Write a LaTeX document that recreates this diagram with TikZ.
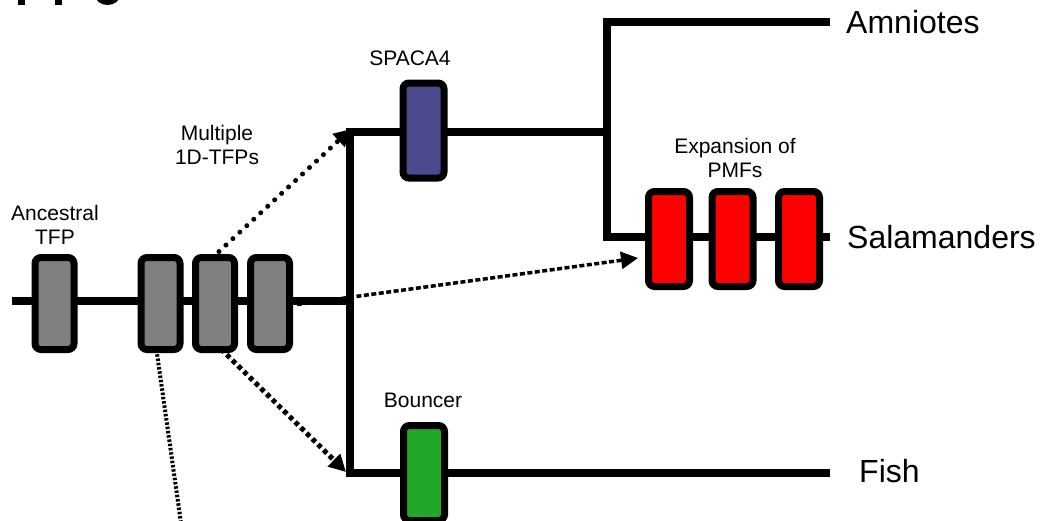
\documentclass[tikz,border=0pt]{standalone}
\usepackage{fontspec}
\setmainfont{Liberation Sans}
\usetikzlibrary{arrows.meta}
\definecolor{genegray}{RGB}{128,128,128}
\definecolor{spacacol}{RGB}{74,74,140}
\definecolor{pmfred}{RGB}{255,0,0}
\definecolor{bouncecol}{RGB}{34,168,40}
\tikzset{
  gene/.style={draw=black, line width=7pt, rounded corners=6pt, minimum width=39pt, minimum height=92pt, inner sep=0pt},
  bigene/.style={gene, minimum width=41pt, minimum height=95pt},
  branch/.style={line width=8pt},
  small/.style={font=\fontsize{21}{24}\selectfont, align=center, inner sep=0pt},
  taxon/.style={font=\fontsize{32}{36}\selectfont, anchor=west, inner sep=0pt},
  tip/.style={-{Triangle[length=17pt,width=17pt]}},
  dotA/.style={line width=5pt, line cap=round, dash pattern=on 0pt off 9.5pt, tip},
  dashB/.style={line width=3.5pt, dash pattern=on 5pt off 2.5pt, tip},
  dashC/.style={line width=5pt, dash pattern=on 4.5pt off 3.5pt, tip},
  dotD/.style={line width=4pt, dash pattern=on 2.5pt off 1.8pt}
}
\begin{document}
\begin{tikzpicture}[x=1pt,y=-1pt]
\useasboundingbox[fill=white] (0,0) rectangle (1040,520);
\clip (0,0) rectangle (1040,520);

% cut-off fragments at top left
\fill (18,-10) rectangle (25,5);
\fill (55,-10) rectangle (62,5);
\fill (107.5,-5) ellipse[x radius=12.5pt, y radius=10pt];

% coordinates of the tree
\coordinate (rootL) at (12,301);
\coordinate (split) at (350,301);
\coordinate (splitT) at (350,132);
\coordinate (splitB) at (350,473);
\coordinate (tetra) at (607,132);
\coordinate (tetraT) at (607,21.5);
\coordinate (tetraB) at (607,237);
\coordinate (endAmn) at (830,21.5);
\coordinate (endSal) at (830,237);
\coordinate (endFish) at (830,473);

% branches
\draw[branch] (rootL) -- (split);
\draw[branch] ([yshift=-4pt]splitT) -- ([yshift=4pt]splitB);
\draw[branch] ([xshift=-4pt]splitT) -- (tetra);
\draw[branch] ([xshift=-4pt]splitB) -- (endFish);
\draw[branch] ([yshift=-4pt]tetraT) -- ([yshift=4pt]tetraB);
\draw[branch] ([xshift=-4pt]tetraT) -- (endAmn);
\draw[branch] ([xshift=-4pt]tetraB) -- (endSal);

% genes
\node[gene, fill=genegray] (anc) at (54.5,303.5) {};
\node[gene, fill=genegray] (m1) at (160.5,303.5) {};
\node[gene, fill=genegray] (m2) at (215,303.5) {};
\node[gene, fill=genegray] (m3) at (270,303.5) {};
\node[bigene, fill=spacacol] (spaca) at (423.5,130.5) {};
\node[bigene, fill=bouncecol] (bounc) at (424,473) {};
\node[bigene, fill=pmfred] (r1) at (669,239) {};
\node[bigene, fill=pmfred] (r2) at (732.5,239) {};
\node[bigene, fill=pmfred] (r3) at (799,239) {};

% labels
\node[small] (lanc) at (55,225) {Ancestral\\TFP};
\node[small] (lmul) at (217,145) {Multiple\\1D-TFPs};
\node[small] (lspa) at (410,58) {SPACA4};
\node[small] (lbou) at (423,400) {Bouncer};
\node[small] (lexp) at (735,158) {Expansion of\\PMFs};
\node[taxon] (amn) at (846,22) {Amniotes};
\node[taxon] (sal) at (847,237) {Salamanders};
\node[taxon] (fish) at (859,471) {Fish};

% arrow end points
\coordinate (tipA) at (351,129);
\coordinate (tipB) at (638,258);
\coordinate (tipC) at (346,472);
\coordinate (offD) at (182,530);

% dotted arrows
\draw[dotA] ([xshift=-3pt,yshift=-4pt]m2.north) -- (tipA);
\draw[dashB] ([xshift=4pt,yshift=-1pt]m3.east) -- (tipB);
\draw[dashC] ([xshift=6pt,yshift=4pt]m2.south) -- (tipC);
\draw[dotD] ([xshift=-4pt,yshift=3pt]m1.south) -- (offD);
\end{tikzpicture}
\end{document}
